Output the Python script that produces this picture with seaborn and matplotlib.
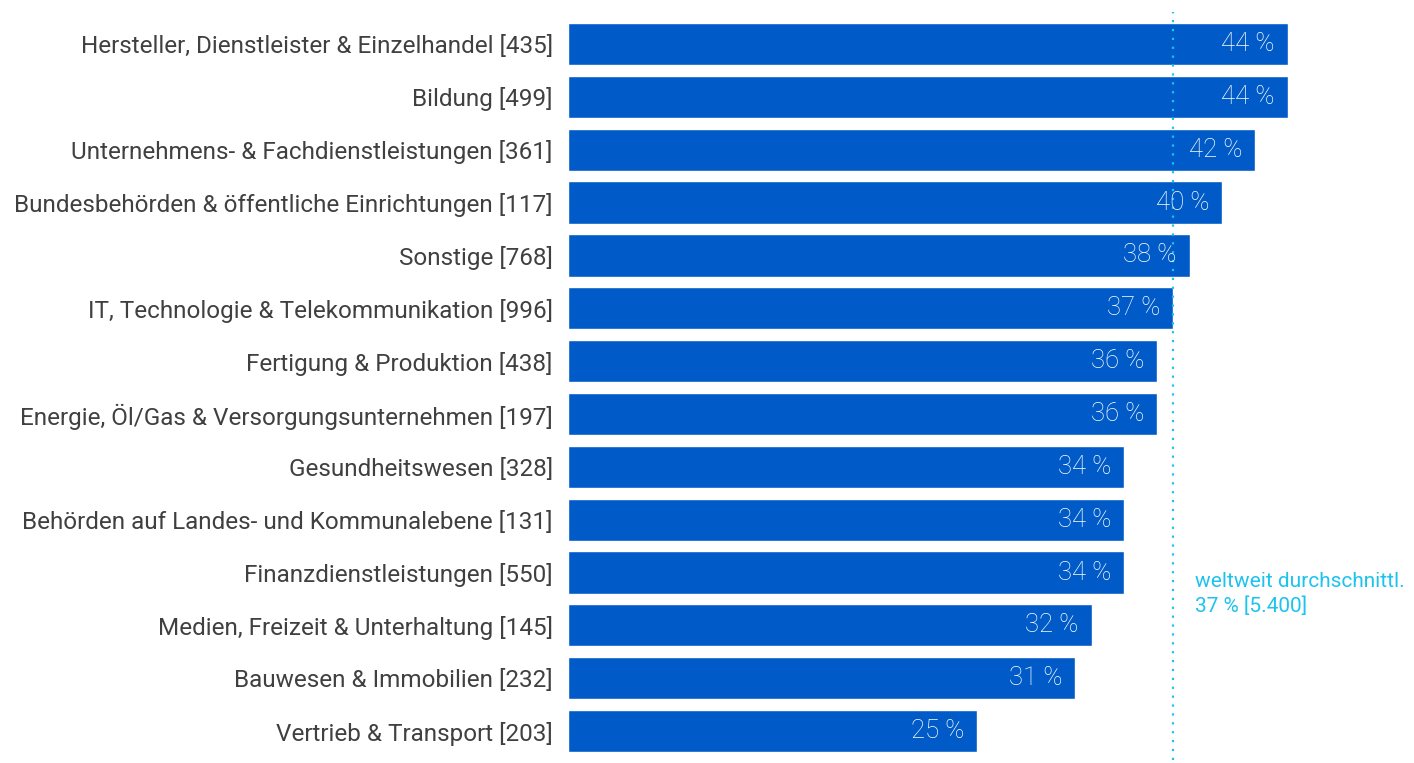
import matplotlib
matplotlib.use("Agg")
import matplotlib.pyplot as plt
import seaborn as sns
import pandas as pd

categories = [
    "Hersteller, Dienstleister & Einzelhandel",
    "Bildung",
    "Unternehmens- & Fachdienstleistungen",
    "Bundesbehörden & öffentliche Einrichtungen",
    "Sonstige",
    "IT, Technologie & Telekommunikation",
    "Fertigung & Produktion",
    "Energie, Öl/Gas & Versorgungsunternehmen",
    "Gesundheitswesen",
    "Behörden auf Landes- und Kommunalebene",
    "Finanzdienstleistungen",
    "Medien, Freizeit & Unterhaltung",
    "Bauwesen & Immobilien",
    "Vertrieb & Transport",
]
counts = [435, 499, 361, 117, 768, 996, 438, 197, 328, 131, 550, 145, 232, 203]
values = [44, 44, 42, 40, 38, 37, 36, 36, 34, 34, 34, 32, 31, 25]
avg_value = 37
avg_label = "weltweit durchschnittl.\n37 % [5.400]"

labels = [f"{c} [{n}]" for c, n in zip(categories, counts)]
df = pd.DataFrame({"label": labels, "value": values})

sns.set_theme(style="white")
plt.rcParams["font.family"] = ["Roboto", "DejaVu Sans"]

W, H = 1414, 763
fig = plt.figure(figsize=(W / 100, H / 100), dpi=100)
ax = fig.add_axes([568 / W, 0, 1 - 568 / W, 1])

BAR = "#005BC8"
CYAN = "#1CC3EE"

sns.barplot(data=df, x="value", y="label", orient="h", color=BAR,
            saturation=1, width=0.8, ax=ax)

px_per = 16.36
ax.set_xlim(0, (W - 568) / px_per)
pitch = 52.85
ax.set_ylim((H - 44) / pitch, -44 / pitch)

for i, v in enumerate(values):
    ax.text(v - 13 / px_per, i, f"{v} %", color="white", ha="right",
            va="center", fontsize=18.5, fontweight="light")

ax.axvline(avg_value, ymin=0.004, ymax=0.984, color=CYAN, lw=1.6,
           linestyle=(0, (1, 3)))
ax.text(avg_value + 22 / px_per, 9.99, avg_label, color=CYAN,
        fontsize=15, va="top", ha="left", linespacing=1.35)

ax.set_xlabel("")
ax.set_ylabel("")
ax.set_xticks([])
ax.tick_params(axis="y", length=0, pad=11, labelsize=17.5, labelcolor="#404040")
for s in ax.spines.values():
    s.set_visible(False)

fig.savefig("out.png", dpi=100)
